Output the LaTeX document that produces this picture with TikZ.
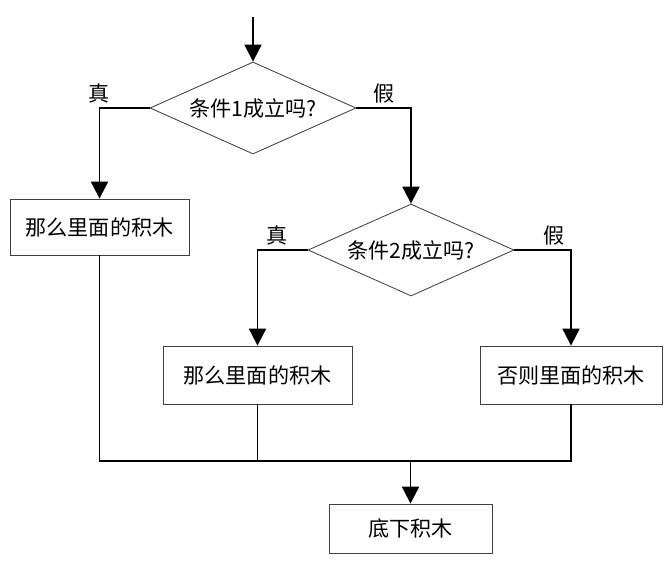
\documentclass[tikz,border=0pt]{standalone}
\usepackage{fontspec}
\newfontfamily\cjk{Noto Sans CJK SC}
\usetikzlibrary{shapes.geometric,arrows.meta}

\tikzset{
  block/.style={rectangle, draw=black!75, line width=0.6pt, font=\cjk\fontsize{15}{18}\selectfont},
  cond/.style={diamond, draw=black!75, line width=0.6pt, font=\cjk\fontsize{15}{18}\selectfont,
    aspect=2.24, inner sep=0pt, minimum width=5.15cm, minimum height=2.3cm},
  flow/.style={line width=1.4pt, -{Triangle[length=12pt,width=12pt]}},
  link/.style={line width=1.4pt},
  tag/.style={font=\cjk\fontsize{15}{18}\selectfont, inner sep=3pt}
}

\begin{document}
\begin{tikzpicture}
  \useasboundingbox (0,0) rectangle (16.725,-14.225);

  \coordinate (start) at (6.325,-0.425);
  \node[cond] (cond1) at (6.325,-2.7) {条件1成立吗?};
  \node[block, minimum width=4.475cm, minimum height=1.4cm] (then1) at (2.4875,-5.675) {那么里面的积木};
  \node[cond] (cond2) at (10.275,-6.25) {条件2成立吗?};
  \node[block, minimum width=4.725cm, minimum height=1.45cm] (then2) at (6.4375,-9.375) {那么里面的积木};
  \node[block, minimum width=4.55cm, minimum height=1.45cm] (else2) at (14.275,-9.375) {否则里面的积木};
  \coordinate (join) at (10.2625,-11.525);
  \node[block, minimum width=4.075cm, minimum height=1.225cm] (bottom) at (10.2625,-13.2125) {底下积木};

  \draw[flow] (start) -- (cond1);
  \draw[flow] (cond1.west) -| node[tag, pos=0.5, above] {真} (then1);
  \draw[flow] (cond1.east) -| node[tag, pos=0.25, above] {假} (cond2);
  \draw[flow] (cond2.west) -| node[tag, pos=0.3, above] {真} (then2);
  \draw[flow] (cond2.east) -| node[tag, pos=0.35, above] {假} (else2);

  \draw[link] (then1) |- (join);
  \draw[link] (else2) |- (join);
  \draw[link] (then2) -- (then2 |- join);
  \draw[flow] (join) -- (bottom);
\end{tikzpicture}
\end{document}
